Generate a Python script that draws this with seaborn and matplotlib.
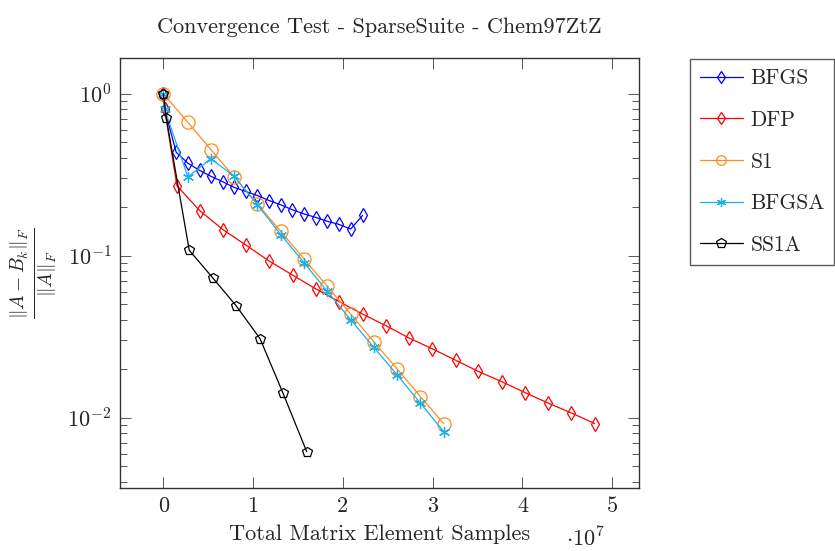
import matplotlib
matplotlib.use("Agg")
import matplotlib.pyplot as plt
import matplotlib.ticker as mticker
import pandas as pd
import seaborn as sns

# x values in units of 1e7 samples
bfgs_x = [0, 0.014, 0.144, 0.278, 0.404, 0.53, 0.663, 0.789, 0.919, 1.048,
          1.178, 1.308, 1.437, 1.567, 1.70, 1.826, 1.956, 2.086, 2.219]
bfgs_y = [1.0, 0.805, 0.434, 0.371, 0.336, 0.309, 0.286, 0.264, 0.249, 0.235,
          0.219, 0.206, 0.192, 0.181, 0.172, 0.163, 0.156, 0.146, 0.177]

dfp_x = [0, 0.014, 0.152, 0.404, 0.663, 0.922, 1.181, 1.441, 1.70, 1.959, 2.219,
         2.478, 2.737, 2.997, 3.256, 3.508, 3.767, 4.026, 4.286, 4.544, 4.803]
dfp_y = [1.0, 0.805, 0.270, 0.190, 0.145, 0.116, 0.0925, 0.0758, 0.0623, 0.052, 0.0436,
         0.037, 0.031, 0.0266, 0.0226, 0.0193, 0.0167, 0.0143, 0.0123, 0.0107, 0.0092]

s1_x = [0, 0.274, 0.53, 0.789, 1.048, 1.308, 1.567, 1.826, 2.086, 2.344,
        2.603, 2.863, 3.122]
s1_y = [1.0, 0.665, 0.451, 0.306, 0.209, 0.141, 0.0955, 0.0646, 0.0436, 0.0294,
        0.0200, 0.0135, 0.0092]

bfgsa_x = [0, 0.014, 0.274, 0.53, 0.789, 1.048, 1.308, 1.567, 1.826, 2.086,
           2.344, 2.603, 2.863, 3.122]
bfgsa_y = [1.0, 0.805, 0.306, 0.397, 0.309, 0.206, 0.135, 0.0906, 0.0602, 0.0403,
           0.0272, 0.0184, 0.0123, 0.0082]

ss1a_x = [0, 0.033, 0.289, 0.552, 0.811, 1.078, 1.33, 1.597]
ss1a_y = [1.0, 0.708, 0.108, 0.0728, 0.0491, 0.0307, 0.0143, 0.00617]

names = ['BFGS', 'DFP', 'S1', 'BFGSA', 'SS1A']
xs = [bfgs_x, dfp_x, s1_x, bfgsa_x, ss1a_x]
ys = [bfgs_y, dfp_y, s1_y, bfgsa_y, ss1a_y]
colors = ['#0000ff', '#ff0000', '#ff8c1a', '#1ab0e8', '#000000']
markers = ['d', 'd', 'o', (6, 2, 0), 'p']
msizes = [7.5, 7.5, 9.5, 8, 7.5]
leg_sizes = [6, 6, 7, 6.5, 7]

sns.set_style("ticks")
plt.rcParams['font.family'] = ['cmr10', 'DejaVu Serif']
plt.rcParams['mathtext.fontset'] = 'cm'
plt.rcParams['axes.formatter.use_mathtext'] = True
plt.rcParams['axes.unicode_minus'] = False

fig = plt.figure(figsize=(8.35, 5.51), dpi=100)
ax = fig.add_axes([120 / 835, 1 - 488 / 551, 518.7 / 835, 430 / 551])

for name, x, y, c, m, ms in zip(names, xs, ys, colors, markers, msizes):
    df = pd.DataFrame({'x': x, 'y': y})
    sns.lineplot(data=df, x='x', y='y', ax=ax, color=c, marker=m, ms=ms,
                 mfc='none', mec=c, mew=0.9, lw=0.9, sort=False,
                 estimator=None, label=name)

ax.set_yscale('log')
ax.set_xlim(-0.482, 5.294)
ax.set_ylim(0.00368, 1.66)
ax.xaxis.set_major_locator(mticker.MultipleLocator(1))
ax.xaxis.set_major_formatter(mticker.FuncFormatter(lambda v, p: f"{v:g}"))
ax.yaxis.set_major_locator(mticker.LogLocator(base=10, numticks=10))
ax.yaxis.set_minor_locator(mticker.LogLocator(base=10, subs=range(2, 10), numticks=20))
ax.yaxis.set_minor_formatter(mticker.NullFormatter())

ax.tick_params(which='both', direction='in', top=True, right=True,
               labelsize=16, color='#555555', width=0.7)
ax.tick_params(which='major', length=8, pad=6)
ax.tick_params(which='minor', length=5)
for s in ax.spines.values():
    s.set_linewidth(1.0)
    s.set_color('#333333')

ax.set_title('Convergence Test - SparseSuite - Chem97ZtZ', fontsize=16, pad=18)
ax.set_xlabel('Total Matrix Element Samples', fontsize=16, labelpad=6)
ax.set_ylabel(r'$\frac{\|A - B_k\|_F}{\|A\|_F}$', fontsize=20, labelpad=6)
ax.text(0.898, -0.117, r'$\cdot 10^7$', transform=ax.transAxes,
        ha='center', va='center', fontsize=16)

handles, labels = ax.get_legend_handles_labels()
ax.get_legend().remove()
leg = fig.legend(handles, labels, loc='upper left',
                 bbox_to_anchor=(690 / 835, 1 - 59 / 551), fontsize=15.5,
                 frameon=True, fancybox=False, edgecolor='#333333',
                 borderaxespad=0, handlelength=2.0, labelspacing=1.03,
                 borderpad=0.45, handletextpad=0.35)
leg.get_frame().set_linewidth(1.0)
for h, s in zip(leg.legend_handles, leg_sizes):
    h.set_markersize(s)

fig.savefig('out.png', dpi=100)
